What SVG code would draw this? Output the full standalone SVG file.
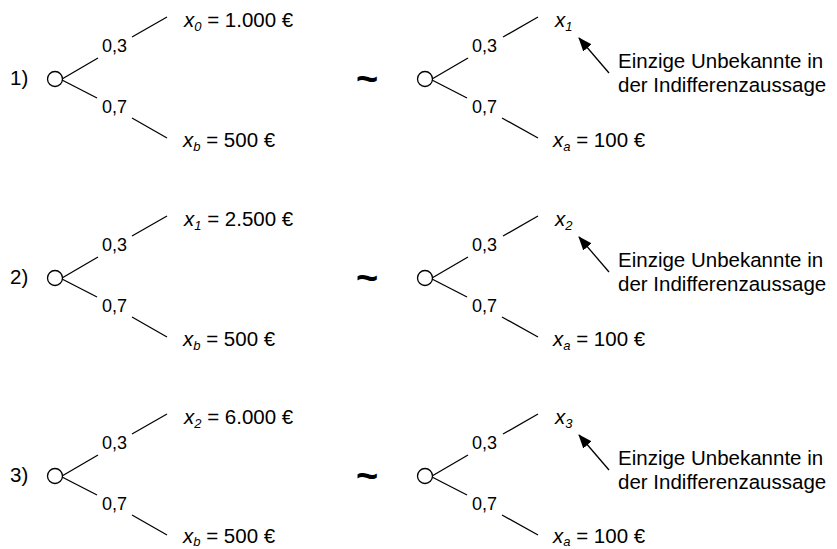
<svg xmlns="http://www.w3.org/2000/svg" width="837" height="549" viewBox="0 0 837 549">
<defs>
<style>
text{font-family:"Liberation Sans",Arial,sans-serif;fill:#000}
.t{font-size:20.5px}
.p{font-size:18px}
.i{font-style:italic}
.s{font-size:13px;font-style:italic}
.n{font-size:20.5px}
.tl{font-size:38px;font-weight:bold}
line{stroke:#000;stroke-width:1.3;fill:none}
circle{stroke:#000;stroke-width:1.3;fill:#fff}
</style>
<marker id="ah" viewBox="0 0 14 11" refX="13" refY="5.5" markerWidth="14" markerHeight="11" markerUnits="userSpaceOnUse" orient="auto">
<path d="M0,0 L14,5.5 L0,11 Z" fill="#000"/>
</marker>
</defs>

<g id="connectors">
<line x1="62" y1="79" x2="98" y2="58"/><line x1="132" y1="37" x2="167" y2="17"/>
<line x1="62" y1="80" x2="97" y2="98"/><line x1="132" y1="118" x2="167" y2="138"/>
<line x1="432" y1="79" x2="468" y2="58"/><line x1="503" y1="37" x2="538" y2="17"/>
<line x1="432" y1="80" x2="467" y2="98"/><line x1="502" y1="118" x2="538" y2="138"/>
<line x1="609" y1="73" x2="579" y2="38" marker-end="url(#ah)"/>

<line x1="62" y1="278" x2="98" y2="257"/><line x1="132" y1="236" x2="167" y2="216"/>
<line x1="62" y1="279" x2="97" y2="297"/><line x1="132" y1="317" x2="167" y2="337"/>
<line x1="432" y1="278" x2="468" y2="257"/><line x1="503" y1="236" x2="538" y2="216"/>
<line x1="432" y1="279" x2="467" y2="297"/><line x1="502" y1="317" x2="538" y2="337"/>
<line x1="609" y1="272" x2="579" y2="237" marker-end="url(#ah)"/>

<line x1="62" y1="476" x2="98" y2="455"/><line x1="132" y1="434" x2="167" y2="414"/>
<line x1="62" y1="477" x2="97" y2="495"/><line x1="132" y1="515" x2="167" y2="535"/>
<line x1="432" y1="476" x2="468" y2="455"/><line x1="503" y1="434" x2="538" y2="414"/>
<line x1="432" y1="477" x2="467" y2="495"/><line x1="502" y1="515" x2="538" y2="535"/>
<line x1="609" y1="470" x2="579" y2="435" marker-end="url(#ah)"/>
</g>

<g id="row1-left">
<text class="t" x="10" y="85">1)</text>
<circle cx="55" cy="79" r="7.5"/>
<text class="p" x="102" y="52">0,3</text>
<text class="p" x="102" y="113">0,7</text>
<text class="t" x="184" y="27"><tspan class="i">x</tspan><tspan class="s" dy="3.5">0</tspan><tspan dy="-3.5"> = 1.000 €</tspan></text>
<text class="t" x="183" y="147"><tspan class="i">x</tspan><tspan class="s" dy="3.5">b</tspan><tspan dy="-3.5"> = 500 €</tspan></text>
</g>
<g id="row1-tilde"><text class="tl" x="367" y="92" text-anchor="middle">~</text></g>
<g id="row1-right">
<circle cx="425" cy="79" r="7.5"/>
<text class="p" x="472" y="52">0,3</text>
<text class="p" x="472" y="113">0,7</text>
<text class="t" x="555" y="27"><tspan class="i">x</tspan><tspan class="s" dy="3.5">1</tspan></text>
<text class="t" x="553" y="147"><tspan class="i">x</tspan><tspan class="s" dy="3.5">a</tspan><tspan dy="-3.5"> = 100 €</tspan></text>
</g>
<g id="row1-note">
<text class="n" x="618" y="68">Einzige Unbekannte in</text>
<text class="n" x="618" y="92">der Indifferenzaussage</text>
</g>

<g id="row2-left">
<text class="t" x="10" y="284">2)</text>
<circle cx="55" cy="278" r="7.5"/>
<text class="p" x="102" y="251">0,3</text>
<text class="p" x="102" y="312">0,7</text>
<text class="t" x="184" y="226"><tspan class="i">x</tspan><tspan class="s" dy="3.5">1</tspan><tspan dy="-3.5"> = 2.500 €</tspan></text>
<text class="t" x="183" y="346"><tspan class="i">x</tspan><tspan class="s" dy="3.5">b</tspan><tspan dy="-3.5"> = 500 €</tspan></text>
</g>
<g id="row2-tilde"><text class="tl" x="367" y="291" text-anchor="middle">~</text></g>
<g id="row2-right">
<circle cx="425" cy="278" r="7.5"/>
<text class="p" x="472" y="251">0,3</text>
<text class="p" x="472" y="312">0,7</text>
<text class="t" x="555" y="226"><tspan class="i">x</tspan><tspan class="s" dy="3.5">2</tspan></text>
<text class="t" x="553" y="346"><tspan class="i">x</tspan><tspan class="s" dy="3.5">a</tspan><tspan dy="-3.5"> = 100 €</tspan></text>
</g>
<g id="row2-note">
<text class="n" x="618" y="267">Einzige Unbekannte in</text>
<text class="n" x="618" y="291">der Indifferenzaussage</text>
</g>

<g id="row3-left">
<text class="t" x="10" y="482">3)</text>
<circle cx="55" cy="476" r="7.5"/>
<text class="p" x="102" y="449">0,3</text>
<text class="p" x="102" y="510">0,7</text>
<text class="t" x="184" y="424"><tspan class="i">x</tspan><tspan class="s" dy="3.5">2</tspan><tspan dy="-3.5"> = 6.000 €</tspan></text>
<text class="t" x="183" y="543"><tspan class="i">x</tspan><tspan class="s" dy="3">b</tspan><tspan dy="-3"> = 500 €</tspan></text>
</g>
<g id="row3-tilde"><text class="tl" x="367" y="489" text-anchor="middle">~</text></g>
<g id="row3-right">
<circle cx="425" cy="476" r="7.5"/>
<text class="p" x="472" y="449">0,3</text>
<text class="p" x="472" y="510">0,7</text>
<text class="t" x="555" y="424"><tspan class="i">x</tspan><tspan class="s" dy="3.5">3</tspan></text>
<text class="t" x="553" y="543"><tspan class="i">x</tspan><tspan class="s" dy="3">a</tspan><tspan dy="-3"> = 100 €</tspan></text>
</g>
<g id="row3-note">
<text class="n" x="618" y="465">Einzige Unbekannte in</text>
<text class="n" x="618" y="489">der Indifferenzaussage</text>
</g>
</svg>
